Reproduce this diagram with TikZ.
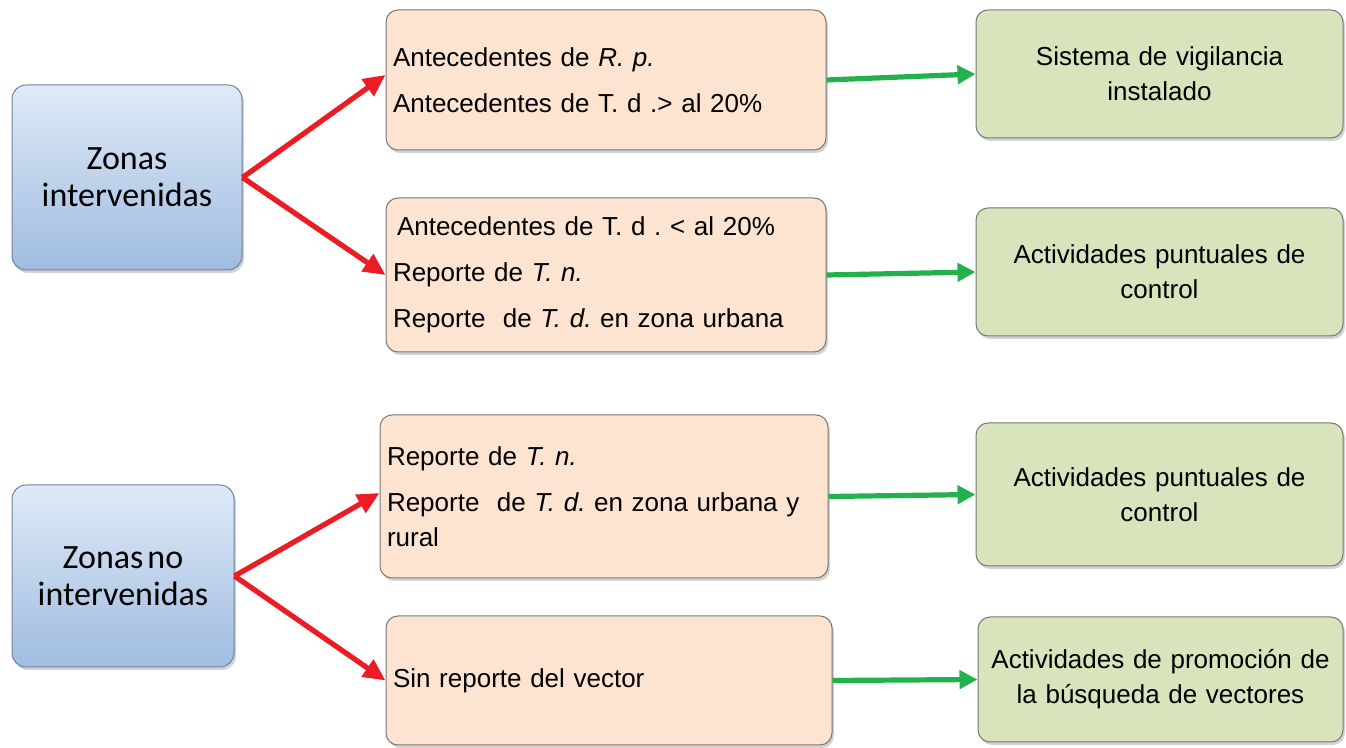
\documentclass[tikz,border=0pt]{standalone}
\usepackage{fontspec}
\setmainfont{Liberation Sans}
\newfontfamily\calib{Carlito}
\usetikzlibrary{arrows.meta, shadows}
\frenchspacing
\definecolor{cZt}{RGB}{222,234,247}
\definecolor{cZb}{RGB}{160,188,224}
\definecolor{cZd}{RGB}{110,130,160}
\definecolor{cC} {RGB}{252,228,208}
\definecolor{cA} {RGB}{215,228,188}
\definecolor{cBd}{RGB}{120,120,120}
\definecolor{cRa}{RGB}{236, 28, 36}
\definecolor{cGa}{RGB}{ 34,177, 76}
\tikzset{
  zona/.style={
    rectangle, rounded corners=7pt,
    draw=cZd, top color=cZt, bottom color=cZb, line width=0.5pt,
    align=center, font=\calib\fontsize{17}{18.5}\selectfont,
    drop shadow={shadow xshift=1pt, shadow yshift=-1.5pt, opacity=0.35},
    inner sep=0pt
  },
  crit/.style={
    rectangle, rounded corners=6pt,
    draw=cBd, fill=cC, line width=0.5pt,
    align=left, font=\fontsize{13}{17.5}\selectfont,
    drop shadow={shadow xshift=1pt, shadow yshift=-1.5pt, opacity=0.35},
    inner xsep=3.5pt, inner ysep=0pt
  },
  accion/.style={
    rectangle, rounded corners=6pt,
    draw=cBd, fill=cA, line width=0.5pt,
    align=center, font=\fontsize{13}{17.5}\selectfont,
    drop shadow={shadow xshift=1pt, shadow yshift=-1.5pt, opacity=0.35},
    minimum width=183.5pt, text width=175pt, inner sep=0pt
  },
  ra/.style={-{Triangle[length=11pt,width=10pt]}, line width=2.6pt, draw=cRa},
  ga/.style={-{Triangle[length=9pt,width=9pt]}, line width=2.6pt, draw=cGa},
}
\begin{document}
\begin{tikzpicture}[x=0.5pt, y=-0.5pt]
\useasboundingbox (0,0) rectangle (1346,748);

%% -- Zonas ---------------------------------------------------------------
\node[zona, minimum width=115pt, minimum height=92.5pt] (zint) at (127,177.5)
  {Zonas\\intervenidas};
\node[zona, minimum width=111pt, minimum height=91pt] (znoint) at (123,576)
  {Zonas\hspace{0.12em}no\\intervenidas};

%% -- Criterios -----------------------------------------------------------
\node[crit, minimum width=220pt, minimum height=70pt, text width=213pt] (c1) at (606,80)
  {Antecedentes de {\itshape R. p.}\\[5.5pt]
   Antecedentes de T. d .> al 20\%};
\node[crit, minimum width=220pt, minimum height=77pt, text width=213pt] (c2) at (606,275)
  {\hspace{2pt}Antecedentes de T. d . < al 20\%\\[5.5pt]
   Reporte de {\itshape T. n.}\\[5.5pt]
   Reporte\ \ de {\itshape T. d.} en zona urbana};
\node[crit, minimum width=224pt, minimum height=81.5pt, text width=217pt] (c3) at (604,496.5)
  {Reporte de {\itshape T. n.}\\[5.5pt]
   Reporte\ \ de {\itshape T. d.} en zona urbana y\\
   rural};
\node[crit, minimum width=223pt, minimum height=64.5pt, text width=216pt] (c4) at (609,680.5)
  {Sin reporte del vector};

%% -- Acciones ------------------------------------------------------------
\node[accion, minimum height=64pt]   (a1) at (1159.5,74)    {Sistema de vigilancia\\instalado};
\node[accion, minimum height=64pt]   (a2) at (1159.5,272)   {Actividades puntuales de\\control};
\node[accion, minimum height=71.5pt] (a3) at (1159.5,494.5) {Actividades puntuales de\\control};
\node[accion, minimum height=62.5pt, minimum width=182.5pt] (a4) at (1160.5,679.5)
  {Actividades de promoción de\\la búsqueda de vectores};

%% -- Flechas rojas -------------------------------------------------------
\draw[ra] (zint.east)   -- ([yshift=2.5pt]c1.west);
\draw[ra] (zint.east)   -- (c2.west);
\draw[ra] (znoint.east) -- ([yshift=1.75pt]c3.west);
\draw[ra] (znoint.east) -- (c4.west);

%% -- Flechas verdes ------------------------------------------------------
\draw[ga] (c1.east) -- (a1.west);
\draw[ga] (c2.east) -- (a2.west);
\draw[ga] (c3.east) -- (a3.west);
\draw[ga] (c4.east) -- (a4.west);

\end{tikzpicture}
\end{document}
